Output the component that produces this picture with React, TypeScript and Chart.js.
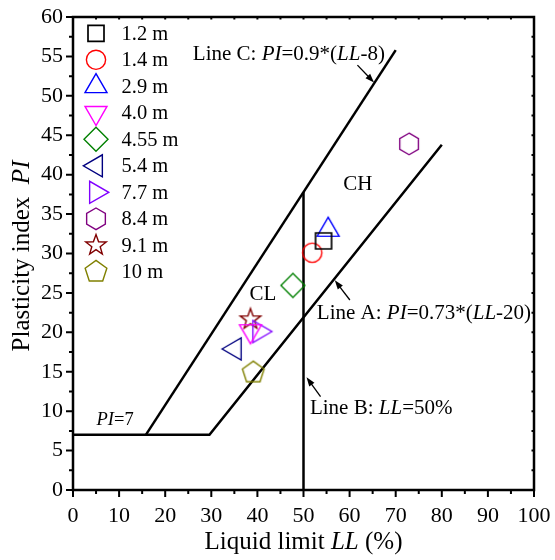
import React, { useEffect, useRef } from 'react';
import { Chart, registerables } from 'chart.js';
Chart.register(...registerables);

const FONT = '"Liberation Serif", "Times New Roman", serif';

const depthLabels = ['1.2 m', '1.4 m', '2.9 m', '4.0 m', '4.55 m', '5.4 m', '7.7 m', '8.4 m', '9.1 m', '10 m'];
const liquidLimit = [54.35, 51.9, 55.35, 38.5, 47.7, 35.1, 40.4, 72.9, 38.5, 39.1];
const plasticityIndex = [31.6, 30.1, 33.0, 20.15, 25.95, 17.9, 20.1, 43.9, 21.65, 14.9];
const markerColors = ['#000000', '#ff0000', '#0000ff', '#ff00ff', '#008000', '#000080', '#8000ff', '#800080', '#800000', '#808000'];
const markerShapes = ['square', 'circle', 'triUp', 'triDown', 'diamond', 'triLeft', 'triRight', 'hexagon', 'star', 'pentagon'];

// Classification lines
const lineA_LL = [0, 29.6, 80];
const lineA_PI = [7, 7, 43.8];
const lineC_LL = [15.8, 70];
const lineC_PI = [7, 55.8];
const lineB_LL = [50, 50];
const lineB_PI = [0, 37.8];

const xTicks = [0, 10, 20, 30, 40, 50, 60, 70, 80, 90, 100];
const yTicks = [0, 5, 10, 15, 20, 25, 30, 35, 40, 45, 50, 55, 60];

function polyPath(ctx: CanvasRenderingContext2D, cx: number, cy: number, r: number, n: number, startDeg: number) {
  ctx.beginPath();
  for (let i = 0; i < n; i++) {
    const a = ((startDeg + (360 / n) * i) * Math.PI) / 180;
    const x = cx + r * Math.cos(a);
    const y = cy + r * Math.sin(a);
    if (i === 0) ctx.moveTo(x, y);
    else ctx.lineTo(x, y);
  }
  ctx.closePath();
}

function drawShape(ctx: CanvasRenderingContext2D, shape: string, cx: number, cy: number, color: string) {
  ctx.save();
  ctx.strokeStyle = color;
  ctx.lineWidth = 1.4;
  ctx.lineJoin = 'miter';
  switch (shape) {
    case 'square':
      ctx.lineWidth = 1.7;
      ctx.beginPath();
      ctx.rect(cx - 8, cy - 8, 16, 16);
      break;
    case 'circle':
      ctx.beginPath();
      ctx.arc(cx, cy, 9.6, 0, Math.PI * 2);
      break;
    case 'triUp':
      polyPath(ctx, cx, cy, 12.7, 3, -90);
      break;
    case 'triDown':
      polyPath(ctx, cx, cy, 12.7, 3, 90);
      break;
    case 'triLeft':
      polyPath(ctx, cx, cy, 12.7, 3, 180);
      break;
    case 'triRight':
      polyPath(ctx, cx, cy, 12.7, 3, 0);
      break;
    case 'diamond':
      ctx.beginPath();
      ctx.moveTo(cx, cy - 12);
      ctx.lineTo(cx + 12, cy);
      ctx.lineTo(cx, cy + 12);
      ctx.lineTo(cx - 12, cy);
      ctx.closePath();
      break;
    case 'hexagon':
      polyPath(ctx, cx, cy, 10.8, 6, -90);
      break;
    case 'pentagon':
      polyPath(ctx, cx, cy, 11.4, 5, -90);
      break;
    case 'star': {
      ctx.beginPath();
      for (let i = 0; i < 10; i++) {
        const r = i % 2 === 0 ? 10.8 : 4.4;
        const a = ((-90 + 36 * i) * Math.PI) / 180;
        const x = cx + r * Math.cos(a);
        const y = cy + r * Math.sin(a);
        if (i === 0) ctx.moveTo(x, y);
        else ctx.lineTo(x, y);
      }
      ctx.closePath();
      break;
    }
  }
  ctx.stroke();
  ctx.restore();
}

function makeMarker(shape: string, color: string): HTMLCanvasElement {
  const c = document.createElement('canvas');
  c.width = 32;
  c.height = 32;
  const ctx = c.getContext('2d')!;
  drawShape(ctx, shape, 16, 16, color);
  return c;
}

type Part = [string, boolean];

function drawRich(ctx: CanvasRenderingContext2D, parts: Part[], x: number, y: number, size: number, align: 'left' | 'center') {
  ctx.save();
  ctx.textBaseline = 'middle';
  ctx.textAlign = 'left';
  ctx.fillStyle = '#000';
  let total = 0;
  const widths = parts.map(([t, it]) => {
    ctx.font = `${it ? 'italic ' : ''}${size}px ${FONT}`;
    const w = ctx.measureText(t).width;
    total += w;
    return w;
  });
  let cx = align === 'center' ? x - total / 2 : x;
  parts.forEach(([t, it], i) => {
    ctx.font = `${it ? 'italic ' : ''}${size}px ${FONT}`;
    ctx.fillText(t, cx, y);
    cx += widths[i];
  });
  ctx.restore();
  return total;
}

function arrow(ctx: CanvasRenderingContext2D, x1: number, y1: number, x2: number, y2: number) {
  const ang = Math.atan2(y2 - y1, x2 - x1);
  const len = 9;
  const half = 3.2;
  ctx.save();
  ctx.strokeStyle = '#000';
  ctx.fillStyle = '#000';
  ctx.lineWidth = 1.3;
  ctx.beginPath();
  ctx.moveTo(x1, y1);
  ctx.lineTo(x2 - Math.cos(ang) * len * 0.8, y2 - Math.sin(ang) * len * 0.8);
  ctx.stroke();
  ctx.beginPath();
  ctx.moveTo(x2, y2);
  ctx.lineTo(x2 - Math.cos(ang) * len + Math.sin(ang) * half, y2 - Math.sin(ang) * len - Math.cos(ang) * half);
  ctx.lineTo(x2 - Math.cos(ang) * len - Math.sin(ang) * half, y2 - Math.sin(ang) * len + Math.cos(ang) * half);
  ctx.closePath();
  ctx.fill();
  ctx.restore();
}

const decorPlugin = {
  id: 'decor',
  afterDatasetsDraw(chart: any) {
    const ctx: CanvasRenderingContext2D = chart.ctx;
    const xs = chart.scales.x;
    const ys = chart.scales.y;
    const { left, right, top, bottom } = chart.chartArea;
    const X = (v: number) => xs.getPixelForValue(v);
    const Y = (v: number) => ys.getPixelForValue(v);

    // Frame
    ctx.save();
    ctx.strokeStyle = '#000';
    ctx.lineWidth = 2.5;
    ctx.strokeRect(left, top, right - left, bottom - top);

    // ticks
    ctx.lineWidth = 2;
    ctx.beginPath();
    for (let v = 0; v <= 100; v += 5) {
      const px = X(v);
      const major = v % 10 === 0;
      ctx.moveTo(px, bottom);
      ctx.lineTo(px, bottom + (major ? 7 : 4));
      ctx.moveTo(px, top);
      ctx.lineTo(px, top + 2.5);
    }
    for (let v = 0; v <= 60; v += 2.5) {
      const py = Y(v);
      const major = v % 5 === 0;
      ctx.moveTo(left, py);
      ctx.lineTo(left - (major ? 7 : 4), py);
      ctx.moveTo(right, py);
      ctx.lineTo(right - 2.5, py);
    }
    ctx.stroke();
    ctx.restore();

    // Annotations
    drawRich(ctx, [['Line C: ', false], ['PI', true], ['=0.9*(', false], ['LL', true], ['-8)', false]], X(26), Y(55.3), 21, 'left');
    arrow(ctx, X(61.7), Y(53.9), X(65.3), Y(51.7));
    drawRich(ctx, [['CH', false]], X(61.8), Y(38.7), 21, 'center');
    drawRich(ctx, [['CL', false]], X(41.2), Y(24.8), 21, 'center');
    drawRich(ctx, [['Line A: ', false], ['PI', true], ['=0.73*(', false], ['LL', true], ['-20)', false]], X(52.9), Y(22.4), 21, 'left');
    arrow(ctx, X(60.06), Y(24.1), X(56.8), Y(26.6));
    drawRich(ctx, [['Line B: ', false], ['LL', true], ['=50%', false]], X(51.4), Y(10.3), 21, 'left');
    arrow(ctx, X(53.7), Y(11.85), X(50.66), Y(14.3));
    drawRich(ctx, [['PI', true], ['=7', false]], X(5.1), Y(8.8), 18.5, 'left');

    // Legend
    depthLabels.forEach((lab, i) => {
      const cy = 33.3 + i * 26.5;
      drawShape(ctx, markerShapes[i], 96, cy, markerColors[i]);
      ctx.save();
      ctx.font = `20.5px ${FONT}`;
      ctx.fillStyle = '#000';
      ctx.textBaseline = 'middle';
      ctx.fillText(lab, 121.5, cy + 1);
      ctx.restore();
    });

    // Axis titles
    drawRich(ctx, [['Liquid limit ', false], ['LL', true], [' (%)', false]], (left + right) / 2, 542, 25, 'center');
    ctx.save();
    ctx.translate(22, 256);
    ctx.rotate(-Math.PI / 2);
    drawRich(ctx, [['Plasticity index  ', false], ['PI', true]], 0, 0, 25, 'center');
    ctx.restore();
  },
};

export default function App() {
  const ref = useRef<HTMLCanvasElement>(null);
  useEffect(() => {
    if (!ref.current) return;
    const lineStyle = {
      showLine: true,
      borderColor: '#000',
      borderWidth: 2.5,
      pointRadius: 0,
      fill: false,
      order: 2,
    };
    const pointSets = depthLabels.map((lab, i) => ({
      label: lab,
      data: [{ x: liquidLimit[i], y: plasticityIndex[i] }],
      pointStyle: makeMarker(markerShapes[i], markerColors[i]),
      pointRadius: 10,
      borderColor: markerColors[i],
      backgroundColor: 'transparent',
      showLine: false,
      order: 1,
    }));
    const chart = new Chart(ref.current, {
      type: 'scatter',
      data: {
        datasets: [
          ...pointSets,
          { label: 'Line A', data: lineA_LL.map((x, i) => ({ x, y: lineA_PI[i] })), ...lineStyle },
          { label: 'Line C', data: lineC_LL.map((x, i) => ({ x, y: lineC_PI[i] })), ...lineStyle },
          { label: 'Line B', data: lineB_LL.map((x, i) => ({ x, y: lineB_PI[i] })), ...lineStyle },
        ] as any,
      },
      options: {
        responsive: false,
        animation: false,
        devicePixelRatio: 1,
        layout: { padding: { top: 17, right: 21, left: 0, bottom: 0 } },
        plugins: { legend: { display: false }, tooltip: { enabled: false } },
        scales: {
          x: {
            type: 'linear',
            min: 0,
            max: 100,
            afterBuildTicks: (s: any) => {
              s.ticks = xTicks.map((v) => ({ value: v }));
            },
            afterFit: (s: any) => {
              s.height = 70;
              s.paddingLeft = 0;
              s.paddingRight = 0;
            },
            ticks: { font: { family: FONT, size: 22 }, color: '#000', padding: 13, maxRotation: 0, autoSkip: false },
            grid: { display: false, drawTicks: false },
            border: { display: false },
          },
          y: {
            type: 'linear',
            min: 0,
            max: 60,
            afterBuildTicks: (s: any) => {
              s.ticks = yTicks.map((v) => ({ value: v }));
            },
            afterFit: (s: any) => {
              s.width = 73;
              s.paddingTop = 0;
              s.paddingBottom = 0;
            },
            ticks: { font: { family: FONT, size: 22 }, color: '#000', padding: 10, autoSkip: false },
            grid: { display: false, drawTicks: false },
            border: { display: false },
          },
        },
      },
      plugins: [decorPlugin],
    });
    return () => chart.destroy();
  }, []);
  return (
    <div style={{ position: 'absolute', left: 0, top: 0, width: 555, height: 560, background: '#fff' }}>
      <canvas ref={ref} width={555} height={560} style={{ width: 555, height: 560, display: 'block' }} />
    </div>
  );
}
